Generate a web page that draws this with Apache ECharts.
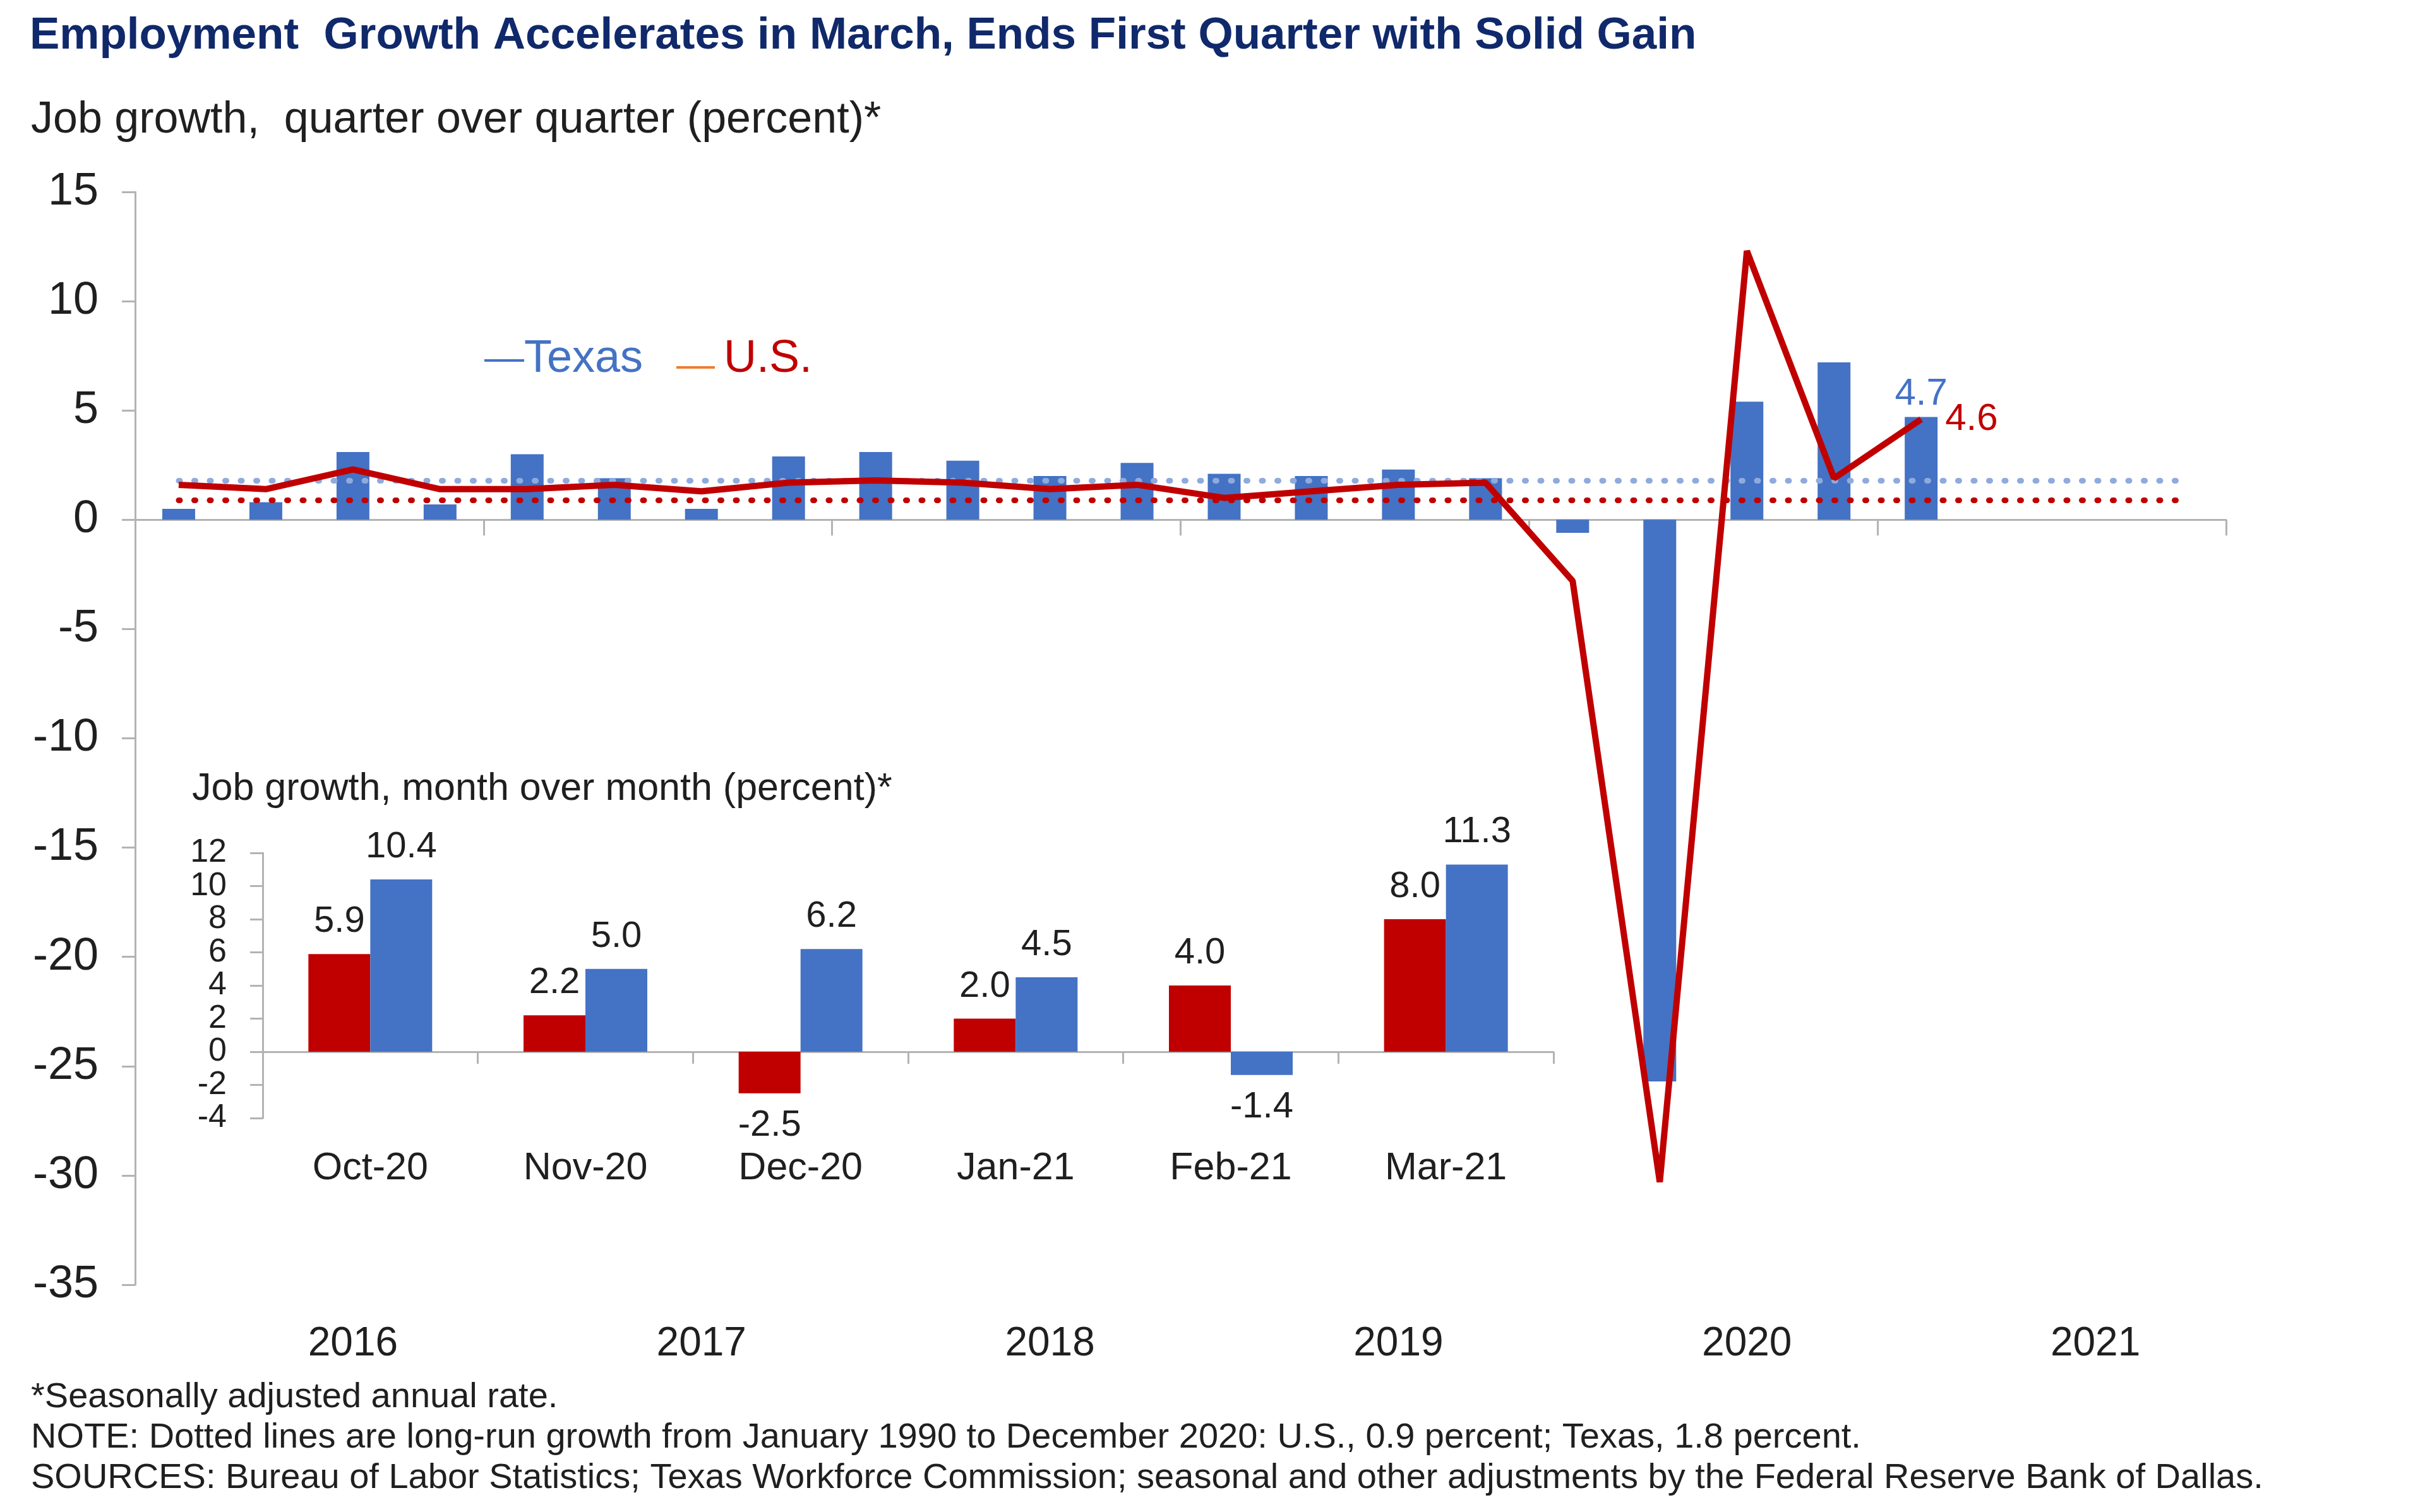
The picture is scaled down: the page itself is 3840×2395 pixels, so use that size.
<!DOCTYPE html>
<html><head><meta charset="utf-8">
<script src="https://cdn.jsdelivr.net/npm/echarts@6/dist/echarts.min.js"></script>
<style>html,body{margin:0;padding:0;background:#fff}#c{width:3840px;height:2395px}</style>
</head><body><div id="c"></div>
<script>
// ---- Main chart data (quarterly, SAAR %) ----
const quarters = ['2016Q1','2016Q2','2016Q3','2016Q4','2017Q1','2017Q2','2017Q3','2017Q4',
  '2018Q1','2018Q2','2018Q3','2018Q4','2019Q1','2019Q2','2019Q3','2019Q4',
  '2020Q1','2020Q2','2020Q3','2020Q4','2021Q1','2021Q2','2021Q3','2021Q4'];
const yearLabels = ['2016','2017','2018','2019','2020','2021'];
const texasQ = [0.5,0.8,3.1,0.7,3.0,1.9,0.5,2.9,3.1,2.7,2.0,2.6,2.1,2.0,2.3,1.9,-0.6,-25.7,5.4,7.2,4.7];
const usQ    = [1.6,1.4,2.3,1.4,1.4,1.6,1.3,1.7,1.8,1.7,1.4,1.6,1.0,1.3,1.6,1.7,-2.8,-30.3,12.3,1.9,4.6];
const texasLongRun = 1.8;
const usLongRun = 0.9;
const mainTicks = {min: -35, max: 15, interval: 5};

// ---- Inset data (monthly, SAAR %) ----
const months = ['Oct-20','Nov-20','Dec-20','Jan-21','Feb-21','Mar-21'];
const usM    = [5.9, 2.2, -2.5, 2.0, 4.0, 8.0];
const texasM = [10.4, 5.0, 6.2, 4.5, -1.4, 11.3];
const insetTicks = {min: -4, max: 12, interval: 2};

// ---- Text ----
const titleText = 'Employment  Growth Accelerates in March, Ends First Quarter with Solid Gain';
const subtitleText = 'Job growth,  quarter over quarter (percent)*';
const insetTitleText = 'Job growth, month over month (percent)*';
const footLines = [
  '*Seasonally adjusted annual rate.',
  'NOTE: Dotted lines are long-run growth from January 1990 to December 2020: U.S., 0.9 percent; Texas, 1.8 percent.',
  'SOURCES: Bureau of Labor Statistics; Texas Workforce Commission; seasonal and other adjustments by the Federal Reserve Bank of Dallas.'
];

const FF = '"Liberation Sans", Arial, sans-serif';
const BLUE = '#4472C4', RED = '#C00000', AX = '#B3B3B3', TXT = '#1f1f1f';

const chart = echarts.init(document.getElementById('c'), null, {renderer: 'canvas'});

const texasData = texasQ.map((v, i) => i === texasQ.length - 1
  ? {value: v, label: {show: true, position: 'top', distance: 6, color: BLUE, fontSize: 60, fontFamily: FF, formatter: '{c}'}}
  : v);
const usData = usQ.map((v, i) => i === usQ.length - 1
  ? {value: v, label: {show: true, position: 'right', distance: 38, color: RED, fontSize: 60, fontFamily: FF, formatter: '{c}'}}
  : v);

function insetBar(vals) {
  return vals.map(v => ({value: v, label: {position: v < 0 ? 'bottom' : 'top'}}));
}

const option = {
  backgroundColor: '#fff',
  animation: false,
  title: [
    {text: titleText, left: 47, top: 22, padding: 0,
     textStyle: {fontSize: 71, fontWeight: 'bold', color: '#10296B', fontFamily: FF}},
    {text: subtitleText, left: 49, top: 156, padding: 0,
     textStyle: {fontSize: 70, fontWeight: 'normal', color: TXT, fontFamily: FF}},
    {text: insetTitleText, left: 304, top: 1220, padding: 0,
     textStyle: {fontSize: 61, fontWeight: 'normal', color: TXT, fontFamily: FF}},
    {text: footLines.join('\n'), left: 49, top: 2182, padding: 0,
     textStyle: {fontSize: 56, lineHeight: 64, fontWeight: 'normal', color: TXT, fontFamily: FF}}
  ],
  graphic: [
    {type: 'rect', left: 767, top: 569, shape: {width: 63, height: 4}, style: {fill: BLUE}},
    {type: 'text', left: 830, top: 533, style: {text: 'Texas', fill: BLUE, font: '72px ' + FF}},
    {type: 'rect', left: 1071, top: 580, shape: {width: 61, height: 4}, style: {fill: '#ED7D31'}},
    {type: 'text', left: 1146, top: 533, style: {text: 'U.S.', fill: RED, font: '72px ' + FF}}
  ],
  grid: [
    {left: 214, top: 304, width: 3311, height: 1731, outerBoundsMode: 'none', containLabel: false},
    {left: 416, top: 1351, width: 2044, height: 420, outerBoundsMode: 'none', containLabel: false}
  ],
  xAxis: [
    {type: 'category', gridIndex: 0, data: quarters, boundaryGap: true,
     axisLine: {onZero: true, lineStyle: {color: AX, width: 3}},
     axisTick: {show: true, interval: 3, length: 25, lineStyle: {color: AX, width: 3}},
     axisLabel: {interval: (i) => i % 4 === 2, formatter: (v, i) => yearLabels[Math.floor(i / 4)],
                 margin: 62, fontSize: 64, color: TXT, fontFamily: FF},
     splitLine: {show: false}},
    {type: 'category', gridIndex: 1, data: months, boundaryGap: true,
     axisLine: {onZero: true, lineStyle: {color: AX, width: 3}},
     axisTick: {show: true, interval: 0, length: 19, lineStyle: {color: AX, width: 3}},
     axisLabel: {interval: 0, margin: 50, fontSize: 61, color: TXT, fontFamily: FF},
     splitLine: {show: false}}
  ],
  yAxis: [
    {type: 'value', gridIndex: 0, min: mainTicks.min, max: mainTicks.max, interval: mainTicks.interval,
     axisLine: {show: true, lineStyle: {color: AX, width: 3}},
     axisTick: {show: true, length: 21, lineStyle: {color: AX, width: 3}},
     axisLabel: {margin: 58, fontSize: 72, color: TXT, fontFamily: FF},
     splitLine: {show: false}},
    {type: 'value', gridIndex: 1, min: insetTicks.min, max: insetTicks.max, interval: insetTicks.interval,
     axisLine: {show: true, lineStyle: {color: AX, width: 3}},
     axisTick: {show: true, length: 20, lineStyle: {color: AX, width: 3}},
     axisLabel: {margin: 57, fontSize: 52, color: TXT, fontFamily: FF},
     splitLine: {show: false}}
  ],
  series: [
    {name: 'Texas', type: 'bar', xAxisIndex: 0, yAxisIndex: 0, data: texasData,
     barWidth: 52, itemStyle: {color: BLUE}, z: 2,
     markLine: {silent: true, symbol: 'none', z: 3, label: {show: false},
       data: [
         [{coord: [quarters[0], texasLongRun], lineStyle: {color: '#8FAADC', width: 9, type: [2, 22.5], cap: 'round'}},
          {coord: [quarters[quarters.length - 1], texasLongRun]}],
         [{coord: [quarters[0], usLongRun], lineStyle: {color: RED, width: 9, type: [2, 22.5], cap: 'round'}},
          {coord: [quarters[quarters.length - 1], usLongRun]}]
       ]}},
    {name: 'U.S.', type: 'line', xAxisIndex: 0, yAxisIndex: 0, data: usData,
     showSymbol: true, symbol: 'circle', symbolSize: 0.01, lineStyle: {color: RED, width: 10}, itemStyle: {color: RED}, z: 5},
    {name: 'U.S. monthly', type: 'bar', xAxisIndex: 1, yAxisIndex: 1, data: insetBar(usM),
     barWidth: 98, barGap: '0%', itemStyle: {color: RED}, z: 6,
     label: {show: true, distance: 22, fontSize: 58, color: TXT, fontFamily: FF, formatter: p => p.value.toFixed(1)}},
    {name: 'Texas monthly', type: 'bar', xAxisIndex: 1, yAxisIndex: 1, data: insetBar(texasM),
     barWidth: 98, barGap: '0%', itemStyle: {color: BLUE}, z: 6,
     label: {show: true, distance: 22, fontSize: 58, color: TXT, fontFamily: FF, formatter: p => p.value.toFixed(1)}}
  ]
};
chart.setOption(option);
</script></body></html>
